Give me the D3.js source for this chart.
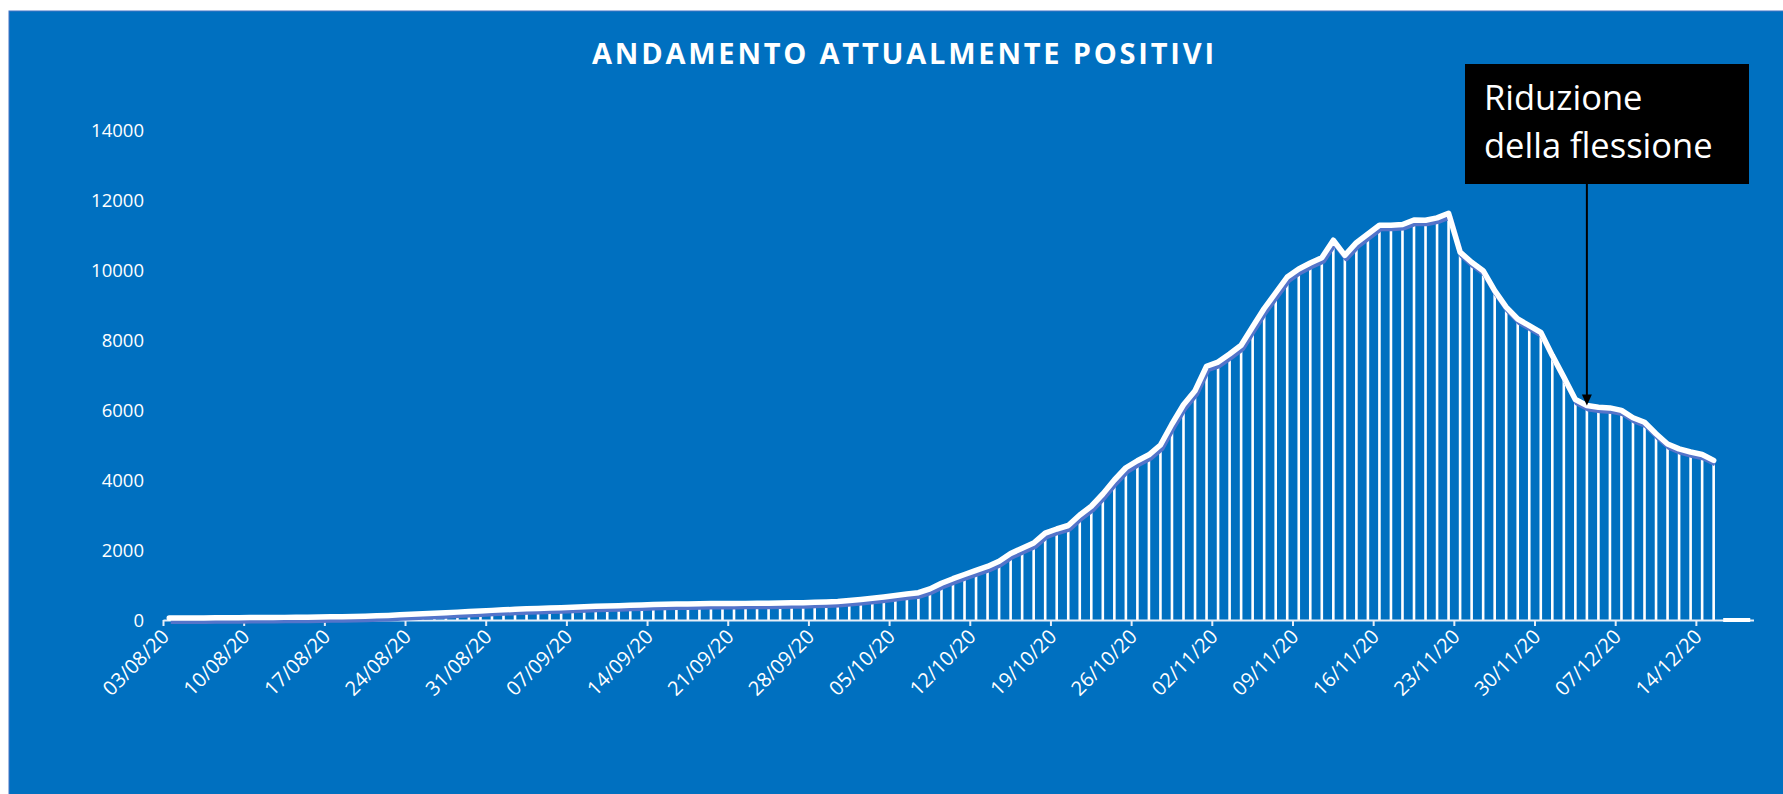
<!DOCTYPE html>
<html>
<head>
<meta charset="utf-8">
<script src="https://cdn.jsdelivr.net/npm/d3@7"></script>
<style>
  body { margin: 0; background: #fff; }
  svg { display: block; font-family: "Open Sans", sans-serif; }
</style>
</head>
<body>
<div id="viz"></div>
<script>
// daily categories 03/08/20 .. 18/12/20
const firstDay = new Date(2020, 7, 3);
const afterLastDay = new Date(2020, 11, 19);

// attualmente positivi, 03/08 -> 15/12
const positivi = [
  55, 57, 58, 60, 62, 64, 66, 68, 70, 72,
  75, 78, 82, 86, 90, 96, 102, 110, 120, 132,
  148, 165, 180, 195, 210, 225, 240, 258, 275, 290,
  305, 318, 330, 340, 352, 365, 378, 390, 400, 410,
  420, 430, 440, 448, 455, 460, 465, 468, 470, 472,
  475, 478, 480, 485, 490, 495, 505, 515, 530, 555,
  585, 620, 660, 700, 740, 780, 890, 1050, 1180, 1300,
  1420, 1530, 1680, 1900, 2050, 2200, 2480, 2600, 2700, 3000,
  3250, 3600, 4000, 4350, 4550, 4720, 5000, 5600, 6150, 6550,
  7250, 7370, 7600, 7850, 8380, 8900, 9350, 9800, 10030, 10200,
  10350, 10850, 10420, 10780, 11030, 11280, 11280, 11300, 11430, 11420,
  11490, 11620, 10510, 10220, 9980, 9410, 8940, 8600, 8410, 8220,
  7560, 6940, 6300, 6130, 6080, 6060, 5990, 5780, 5650, 5320,
  5030, 4890, 4800, 4730, 4560
];
// empty days at the end, plotted at zero
const tailValues = [0, 0, 0];

const yTicks = [0, 2000, 4000, 6000, 8000, 10000, 12000, 14000];
const labelStep = 7;

const titleText = "ANDAMENTO ATTUALMENTE POSITIVI";
const noteLines = ["Riduzione", "della flessione"];
const noteDate = "04/12/20";

const W = 1783, H = 794;
const blue = "#0070C0";

const fmt = d3.timeFormat("%d/%m/%y");
const dates = d3.timeDay.range(firstDay, afterLastDay).map(fmt);

const svg = d3.select("#viz").append("svg")
  .attr("width", W)
  .attr("height", H);

svg.append("rect")
  .attr("x", 9).attr("y", 11)
  .attr("width", W - 8).attr("height", H - 10)
  .attr("fill", blue)
  .attr("stroke", "#4472C4")
  .attr("stroke-width", 1);

svg.append("text")
  .attr("x", 903)
  .attr("y", 64)
  .attr("text-anchor", "middle")
  .attr("textLength", 622)
  .attr("lengthAdjust", "spacing")
  .style("font-size", "29px")
  .style("font-weight", "bold")
  .style("fill", "#fff")
  .text(titleText);

const x = d3.scaleBand()
  .domain(dates)
  .range([163.5, 1754])
  .padding(0);

const y = d3.scaleLinear()
  .domain([0, 14000])
  .range([620, 130]);

const bw = x.bandwidth();
const cx = d => x(d) + bw / 2;

const series = positivi.map((v, i) => ({ date: dates[i], value: v }));
const tail = tailValues.map((v, i) => ({ date: dates[positivi.length + i], value: v }));

// y labels
svg.append("g")
  .selectAll("text")
  .data(yTicks)
  .enter()
  .append("text")
  .attr("x", 144)
  .attr("y", d => y(d))
  .attr("dy", "0.36em")
  .attr("text-anchor", "end")
  .style("font-size", "18.5px")
  .style("fill", "#fff")
  .text(d => d);

// bars (thin white columns)
svg.append("g")
  .selectAll("rect")
  .data(series)
  .enter()
  .append("rect")
  .attr("x", d => cx(d.date) - 1.3)
  .attr("y", d => y(d.value))
  .attr("width", 2.6)
  .attr("height", d => y(0) - y(d.value))
  .attr("fill", "#fff");

// x axis line + ticks
const axis = svg.append("g");
axis.append("line")
  .attr("x1", x.range()[0])
  .attr("x2", x.range()[1])
  .attr("y1", y(0) + 0.5)
  .attr("y2", y(0) + 0.5)
  .attr("stroke", "#e6eef8")
  .attr("stroke-width", 2);

const labelDates = dates.filter((d, i) => i % labelStep === 0 && i < positivi.length);

axis.selectAll(".tick")
  .data(labelDates)
  .enter()
  .append("line")
  .attr("x1", d => x(d))
  .attr("x2", d => x(d))
  .attr("y1", y(0))
  .attr("y2", y(0) + 6)
  .attr("stroke", "#e6eef8")
  .attr("stroke-width", 2);

axis.selectAll(".xlab")
  .data(labelDates)
  .enter()
  .append("text")
  .attr("transform", d => `translate(${cx(d) + 1},638) rotate(-45)`)
  .attr("text-anchor", "end")
  .style("font-size", "20px")
  .style("fill", "#fff")
  .text(d => d);

// line with shadow
const line = d3.line()
  .x(d => cx(d.date))
  .y(d => y(d.value));

svg.append("path")
  .datum(series)
  .attr("transform", "translate(1.5,3.5)")
  .attr("fill", "none")
  .attr("stroke", "#5474ca")
  .attr("stroke-width", 5)
  .attr("stroke-linejoin", "round")
  .attr("d", line);

svg.append("path")
  .datum(series)
  .attr("fill", "none")
  .attr("stroke", "#fff")
  .attr("stroke-width", 5.5)
  .attr("stroke-linejoin", "round")
  .attr("stroke-linecap", "round")
  .attr("d", line);

svg.append("path")
  .datum(tail)
  .attr("fill", "none")
  .attr("stroke", "#fff")
  .attr("stroke-width", 4)
  .attr("stroke-linecap", "square")
  .attr("d", line);

// annotation
const note = svg.append("g");
const noteValue = positivi[dates.indexOf(noteDate)];
const ax = cx(noteDate);

note.append("rect")
  .attr("x", 1465).attr("y", 64)
  .attr("width", 284).attr("height", 120)
  .attr("fill", "#000");

note.selectAll("text")
  .data(noteLines)
  .enter()
  .append("text")
  .attr("x", 1484)
  .attr("y", (d, i) => 110 + i * 48)
  .style("font-size", "34.5px")
  .style("fill", "#fff")
  .text(d => d);

note.append("line")
  .attr("x1", ax).attr("x2", ax)
  .attr("y1", 184)
  .attr("y2", y(noteValue) - 9)
  .attr("stroke", "#000")
  .attr("stroke-width", 2);

note.append("path")
  .attr("d", `M${ax - 5},${y(noteValue) - 11} L${ax + 5},${y(noteValue) - 11} L${ax},${y(noteValue)} Z`)
  .attr("fill", "#000");
</script>
</body>
</html>
